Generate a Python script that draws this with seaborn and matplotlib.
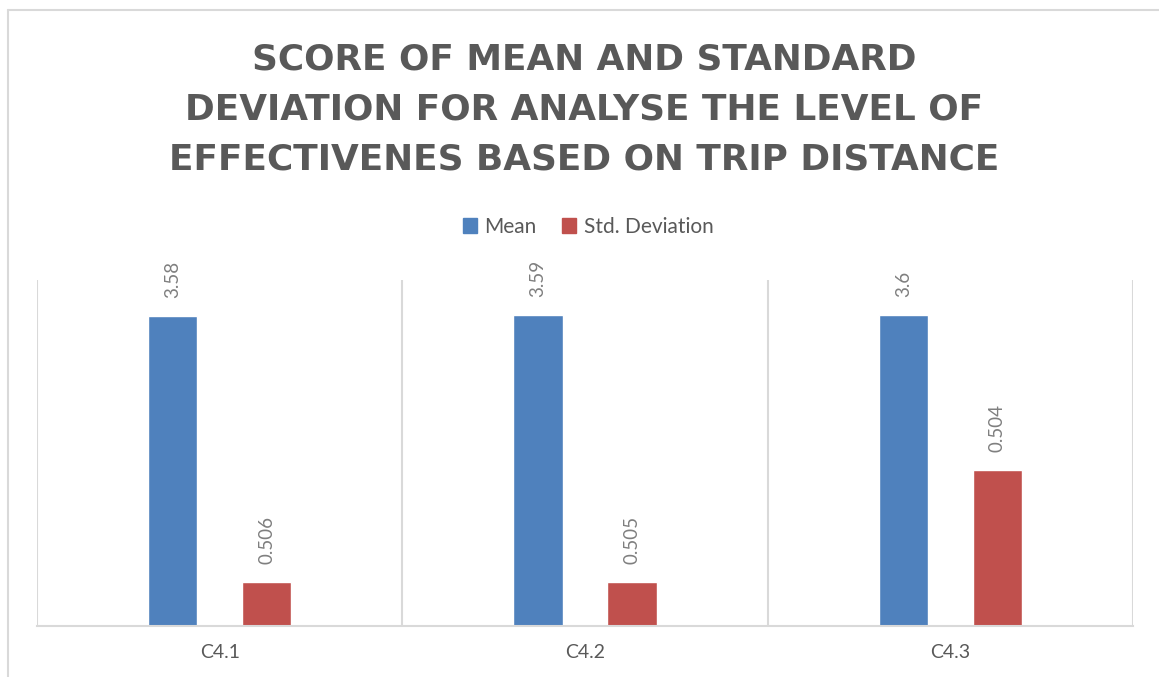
import matplotlib
matplotlib.use("Agg")
import matplotlib.pyplot as plt
import matplotlib.patches as mpatches
import seaborn as sns
import pandas as pd

categories = ["C4.1", "C4.2", "C4.3"]
series_names = ["Mean", "Std. Deviation"]
mean_values = [3.58, 3.59, 3.60]
std_bar_heights = [0.506, 0.505, 1.80]   # heights as drawn in the picture
mean_labels = ["3.58", "3.59", "3.6"]
std_labels = ["0.506", "0.505", "0.504"]
colors = ["#4f81bd", "#c0504d"]
title_text = "SCORE OF MEAN AND STANDARD\nDEVIATION FOR ANALYSE THE LEVEL OF\nEFFECTIVENES BASED ON TRIP DISTANCE"

df = pd.DataFrame({
    "category": categories * 2,
    "series": [series_names[0]] * 3 + [series_names[1]] * 3,
    "value": mean_values + std_bar_heights,
    "label": mean_labels + std_labels,
})

sns.set_theme(style="white")
plt.rcParams["font.family"] = ["Lato", "DejaVu Sans"]

fig = plt.figure(figsize=(11.59, 6.77), dpi=100)
ax = fig.add_axes([37 / 1159, 51 / 677, 1096 / 1159, 346 / 677])

sns.barplot(data=df, x="category", y="value", hue="series", palette=colors,
            width=0.515, gap=0.474, dodge=True, ax=ax, legend=False,
            saturation=1, errorbar=None)

ax.set_ylim(0, 4)
ax.set_xlim(-0.5, 2.5)
ax.set_yticks([])
ax.set_xlabel("")
ax.set_ylabel("")
for s in ["top", "right", "left"]:
    ax.spines[s].set_visible(False)
ax.spines["bottom"].set_color("#d9d9d9")
ax.spines["bottom"].set_linewidth(1.5)
for xb in [-0.5, 0.5, 1.5, 2.5]:
    ax.axvline(xb, color="#d9d9d9", lw=1.5, zorder=0)

ax.tick_params(axis="x", length=0, pad=13, labelsize=14, labelcolor="#595959")

# data labels
for cont, labels in zip(ax.containers, [mean_labels, std_labels]):
    ax.bar_label(cont, labels=labels, rotation=90, padding=13,
                 fontsize=13.5, color="#7f7f7f")

# title
fig.text(584 / 1159, 1 - 42 / 677, title_text, ha="center", va="top",
         fontsize=25.8, fontweight="bold", color="#595959",
         family=["DejaVu Sans"], linespacing=1.6)

# legend
handles = [mpatches.Patch(color=c, label=n) for c, n in zip(colors, series_names)]
fig.legend(handles=handles, loc="center", bbox_to_anchor=(588 / 1159, 1 - 227 / 677),
           ncol=2, frameon=False, fontsize=15, handlelength=0.7, handleheight=0.7,
           handletextpad=0.35, columnspacing=1.2, labelcolor="#595959")

# outer chart border
fig.add_artist(plt.Line2D([8 / 1159, 8 / 1159], [0, 1 - 9.5 / 677], transform=fig.transFigure,
                          color="#d9d9d9", lw=1.5))
fig.add_artist(plt.Line2D([8 / 1159, 1], [1 - 9.5 / 677, 1 - 9.5 / 677], transform=fig.transFigure,
                          color="#d9d9d9", lw=1.5))

fig.savefig("out.png", dpi=100)
